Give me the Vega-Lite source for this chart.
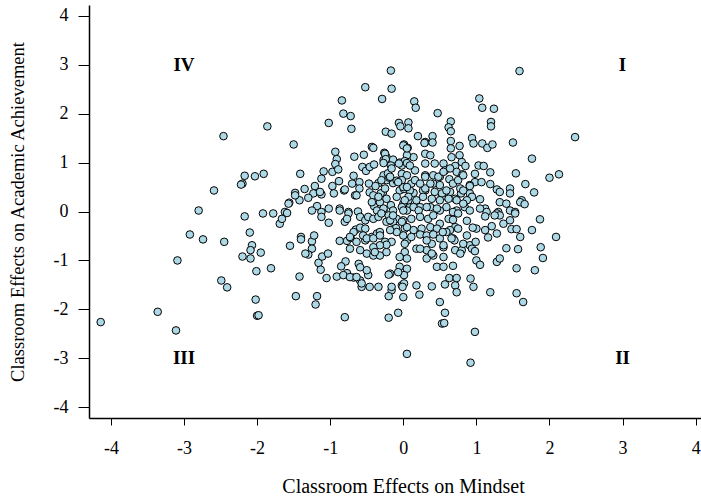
{
  "$schema": "https://vega.github.io/schema/vega-lite/v6.json",
  "width": 612,
  "height": 413,
  "autosize": {"type": "none"},
  "padding": {"left": 89, "top": 5, "right": 0, "bottom": 80},
  "background": "white",
  "config": {"view": {"stroke": null}, "font": "Liberation Serif"},
  "datasets": {
    "pts": [
{"mindset":-0.17,"achievement":2.88},{"mindset":-0.52,"achievement":2.54},{"mindset":-0.16,"achievement":2.51},{"mindset":-0.29,"achievement":2.30},{"mindset":-0.84,"achievement":2.27},{"mindset":0.15,"achievement":2.25},{"mindset":0.17,"achievement":2.12},{"mindset":-0.82,"achievement":2.00},{"mindset":-0.72,"achievement":1.95},{"mindset":-1.02,"achievement":1.81},{"mindset":-0.71,"achievement":1.69},{"mindset":-1.86,"achievement":1.74},{"mindset":-2.46,"achievement":1.54},{"mindset":-0.06,"achievement":1.81},{"mindset":0.07,"achievement":1.82},{"mindset":-0.04,"achievement":1.74},{"mindset":-0.24,"achievement":1.63},{"mindset":-0.16,"achievement":1.59},{"mindset":0.07,"achievement":1.70},{"mindset":0.20,"achievement":1.54},{"mindset":-1.50,"achievement":1.37},{"mindset":-0.43,"achievement":1.32},{"mindset":-0.41,"achievement":1.30},{"mindset":0.01,"achievement":1.37},{"mindset":0.06,"achievement":1.30},{"mindset":0.30,"achievement":1.42},{"mindset":-0.93,"achievement":1.22},{"mindset":-0.67,"achievement":1.12},{"mindset":-0.54,"achievement":1.16},{"mindset":-0.91,"achievement":1.07},{"mindset":-0.93,"achievement":0.97},{"mindset":-0.26,"achievement":1.20},{"mindset":-0.23,"achievement":1.11},{"mindset":-0.27,"achievement":1.05},{"mindset":-0.14,"achievement":1.06},{"mindset":-0.17,"achievement":0.94},{"mindset":-0.05,"achievement":1.00},{"mindset":-0.02,"achievement":0.94},{"mindset":0.14,"achievement":1.11},{"mindset":0.05,"achievement":1.15},{"mindset":0.30,"achievement":1.18},{"mindset":0.37,"achievement":1.15},
{"mindset":1.59,"achievement":2.87},{"mindset":1.04,"achievement":2.31},{"mindset":1.08,"achievement":2.12},{"mindset":1.24,"achievement":2.10},{"mindset":0.47,"achievement":2.01},{"mindset":0.65,"achievement":1.84},{"mindset":0.62,"achievement":1.72},{"mindset":0.65,"achievement":1.64},{"mindset":1.20,"achievement":1.83},{"mindset":1.20,"achievement":1.74},{"mindset":2.35,"achievement":1.52},{"mindset":0.29,"achievement":1.40},{"mindset":0.40,"achievement":1.54},{"mindset":0.40,"achievement":1.41},{"mindset":0.65,"achievement":1.44},{"mindset":0.65,"achievement":1.29},{"mindset":0.77,"achievement":1.34},{"mindset":0.94,"achievement":1.50},{"mindset":0.96,"achievement":1.39},{"mindset":1.08,"achievement":1.39},{"mindset":1.15,"achievement":1.30},{"mindset":1.22,"achievement":1.37},{"mindset":1.50,"achievement":1.41},{"mindset":1.76,"achievement":1.08},{"mindset":0.00,"achievement":1.35},{"mindset":0.05,"achievement":1.29},
{"mindset":0.30,"achievement":0.98},{"mindset":0.43,"achievement":0.98},{"mindset":0.55,"achievement":0.98},{"mindset":0.66,"achievement":1.11},{"mindset":0.77,"achievement":1.15},{"mindset":0.80,"achievement":1.01},{"mindset":0.85,"achievement":0.93},{"mindset":0.71,"achievement":0.93},{"mindset":0.02,"achievement":1.03},{"mindset":-0.25,"achievement":1.18},{"mindset":-0.24,"achievement":1.07},
{"mindset":0.57,"achievement":0.84},{"mindset":0.50,"achievement":0.71},{"mindset":0.63,"achievement":0.66},{"mindset":0.41,"achievement":0.74},{"mindset":0.30,"achievement":0.74},{"mindset":0.16,"achievement":0.84},{"mindset":-0.02,"achievement":0.77},{"mindset":0.11,"achievement":0.57},{"mindset":0.41,"achievement":0.57},{"mindset":0.73,"achievement":0.81},{"mindset":0.81,"achievement":0.76},{"mindset":0.98,"achievement":0.77},{"mindset":1.03,"achievement":0.94},{"mindset":1.10,"achievement":0.93},{"mindset":1.19,"achievement":0.80},{"mindset":0.98,"achievement":0.60},{"mindset":0.91,"achievement":0.54},{"mindset":1.19,"achievement":0.56},{"mindset":1.28,"achievement":0.45},{"mindset":1.32,"achievement":0.40},{"mindset":1.46,"achievement":0.47},{"mindset":1.46,"achievement":0.37},{"mindset":0.79,"achievement":0.37},{"mindset":0.91,"achievement":0.37},{"mindset":0.64,"achievement":0.40},{"mindset":0.30,"achievement":0.43},{"mindset":0.53,"achievement":0.30},{"mindset":1.05,"achievement":0.25},{"mindset":1.62,"achievement":0.23},{"mindset":1.54,"achievement":0.78},{"mindset":2.00,"achievement":0.69},{"mindset":2.13,"achievement":0.76},{"mindset":1.67,"achievement":0.56},{"mindset":1.79,"achievement":0.39},
{"mindset":-0.56,"achievement":0.91},{"mindset":-0.51,"achievement":0.83},{"mindset":-0.46,"achievement":0.91},{"mindset":-0.40,"achievement":0.96},{"mindset":-0.68,"achievement":0.73},{"mindset":-0.70,"achievement":0.57},{"mindset":-0.60,"achievement":0.60},{"mindset":-0.47,"achievement":0.57},{"mindset":-0.34,"achievement":0.58},{"mindset":-0.27,"achievement":0.74},{"mindset":-0.21,"achievement":0.78},{"mindset":-0.14,"achievement":0.58},{"mindset":-1.09,"achievement":0.82},{"mindset":-1.12,"achievement":0.67},{"mindset":-0.97,"achievement":0.81},{"mindset":-0.88,"achievement":0.62},{"mindset":-0.97,"achievement":0.52},{"mindset":-0.81,"achievement":0.43},{"mindset":-0.95,"achievement":0.37},{"mindset":-1.21,"achievement":0.52},{"mindset":-1.23,"achievement":0.37},{"mindset":-1.35,"achievement":0.46},{"mindset":-1.41,"achievement":0.77},{"mindset":-1.48,"achievement":0.38},{"mindset":-1.12,"achievement":0.35},{"mindset":-2.17,"achievement":0.73},{"mindset":-2.03,"achievement":0.72},{"mindset":-1.91,"achievement":0.77},{"mindset":-2.20,"achievement":0.57},{"mindset":-2.22,"achievement":0.55},{"mindset":-2.59,"achievement":0.43},{"mindset":-0.66,"achievement":0.33},{"mindset":-0.46,"achievement":0.39},{"mindset":-0.28,"achievement":0.38},{"mindset":-0.05,"achievement":0.43},{"mindset":0.14,"achievement":0.38},{"mindset":-0.89,"achievement":0.86},{"mindset":-0.27,"achievement":0.99},{"mindset":-0.06,"achievement":0.98},{"mindset":0.05,"achievement":0.99},{"mindset":-0.16,"achievement":0.88},{"mindset":-1.14,"achievement":0.40},{"mindset":-1.30,"achievement":0.28},{"mindset":-1.42,"achievement":0.23},{"mindset":-1.56,"achievement":0.18},{"mindset":-0.80,"achievement":0.45},{"mindset":-0.60,"achievement":0.47},{"mindset":-0.64,"achievement":0.33},{"mindset":-0.38,"achievement":0.52},{"mindset":-0.31,"achievement":0.37},{"mindset":-0.41,"achievement":0.33},{"mindset":-0.23,"achievement":0.64},{"mindset":-0.19,"achievement":0.69},{"mindset":-0.09,"achievement":0.63},{"mindset":-0.25,"achievement":0.47},{"mindset":0.01,"achievement":0.46},{"mindset":-0.17,"achievement":0.13},{"mindset":-0.40,"achievement":0.11},{"mindset":-0.32,"achievement":0.19},{"mindset":-0.43,"achievement":0.19},{"mindset":-1.18,"achievement":0.11},{"mindset":-1.25,"achievement":0.02},{"mindset":-1.02,"achievement":0.06},{"mindset":-0.87,"achievement":0.06},{"mindset":-0.75,"achievement":-0.01},{"mindset":-0.62,"achievement":0.00},{"mindset":-1.62,"achievement":-0.01},{"mindset":-1.92,"achievement":-0.04},{"mindset":-1.78,"achievement":-0.04},
{"mindset":0.16,"achievement":0.64},{"mindset":0.00,"achievement":0.50},{"mindset":0.09,"achievement":0.43},{"mindset":0.27,"achievement":0.43},{"mindset":0.30,"achievement":0.47},{"mindset":0.43,"achievement":0.40},{"mindset":0.53,"achievement":0.37},{"mindset":0.71,"achievement":0.26},{"mindset":0.78,"achievement":0.47},{"mindset":0.82,"achievement":0.43},{"mindset":0.91,"achievement":0.52},{"mindset":0.94,"achievement":0.30},{"mindset":0.87,"achievement":0.23},{"mindset":1.07,"achievement":0.60},{"mindset":1.12,"achievement":0.06},{"mindset":0.84,"achievement":0.09},{"mindset":0.91,"achievement":0.02},{"mindset":1.32,"achievement":0.19},{"mindset":1.41,"achievement":0.16},{"mindset":1.60,"achievement":0.19},{"mindset":1.66,"achievement":0.15},{"mindset":1.46,"achievement":0.02},{"mindset":1.53,"achievement":-0.01},{"mindset":1.30,"achievement":-0.01},{"mindset":1.14,"achievement":-0.01},{"mindset":0.59,"achievement":0.09},{"mindset":0.50,"achievement":0.02},{"mindset":0.37,"achievement":0.09},{"mindset":0.23,"achievement":0.09},{"mindset":0.09,"achievement":0.09},{"mindset":0.07,"achievement":0.23},{"mindset":0.18,"achievement":0.23},
{"mindset":0.09,"achievement":0.94},{"mindset":0.05,"achievement":0.74},{"mindset":-0.02,"achievement":0.64},{"mindset":0.23,"achievement":0.57},{"mindset":0.30,"achievement":0.71},{"mindset":0.37,"achievement":0.57},{"mindset":0.48,"achievement":0.71},{"mindset":0.55,"achievement":0.81},{"mindset":0.64,"achievement":0.88},{"mindset":0.50,"achievement":0.54},{"mindset":0.59,"achievement":0.43},{"mindset":0.68,"achievement":0.57},{"mindset":0.75,"achievement":0.64},{"mindset":0.82,"achievement":0.74},{"mindset":0.07,"achievement":0.30},{"mindset":0.27,"achievement":0.30},{"mindset":0.39,"achievement":0.26},{"mindset":0.50,"achievement":0.23},{"mindset":0.62,"achievement":0.26},{"mindset":0.73,"achievement":0.23},{"mindset":0.82,"achievement":0.16},{"mindset":0.00,"achievement":0.16},{"mindset":0.14,"achievement":0.09},{"mindset":0.32,"achievement":0.09},{"mindset":0.46,"achievement":0.06},{"mindset":0.73,"achievement":0.02},{"mindset":-0.30,"achievement":0.64},{"mindset":-0.18,"achievement":0.71},{"mindset":-0.07,"achievement":0.60},{"mindset":0.05,"achievement":0.50},{"mindset":-0.34,"achievement":0.30},{"mindset":-0.23,"achievement":0.26},{"mindset":-0.09,"achievement":0.30},{"mindset":0.02,"achievement":0.23},{"mindset":-0.02,"achievement":0.09},{"mindset":0.05,"achievement":0.02},{"mindset":-0.27,"achievement":0.02},{"mindset":-0.14,"achievement":0.02},
{"mindset":0.00,"achievement":0.02},{"mindset":0.21,"achievement":0.02},{"mindset":0.68,"achievement":-0.01},{"mindset":0.75,"achievement":-0.04},{"mindset":0.00,"achievement":-0.18},{"mindset":0.11,"achievement":-0.15},{"mindset":0.23,"achievement":-0.11},{"mindset":0.34,"achievement":-0.15},{"mindset":0.41,"achievement":-0.08},{"mindset":0.50,"achievement":-0.25},{"mindset":0.62,"achievement":-0.15},{"mindset":0.71,"achievement":-0.32},{"mindset":0.02,"achievement":-0.35},{"mindset":0.14,"achievement":-0.38},{"mindset":0.25,"achievement":-0.35},{"mindset":0.37,"achievement":-0.32},{"mindset":0.46,"achievement":-0.35},{"mindset":0.64,"achievement":-0.38},{"mindset":0.75,"achievement":-0.35},{"mindset":0.87,"achievement":-0.19},{"mindset":1.00,"achievement":-0.35},{"mindset":1.12,"achievement":-0.38},{"mindset":1.21,"achievement":-0.30},{"mindset":1.28,"achievement":-0.04},{"mindset":1.37,"achievement":-0.25},{"mindset":1.46,"achievement":-0.18},{"mindset":1.53,"achievement":-0.04},{"mindset":1.48,"achievement":-0.36},{"mindset":1.55,"achievement":-0.36},{"mindset":1.60,"achievement":-0.52},{"mindset":1.76,"achievement":-0.38},{"mindset":1.87,"achievement":-0.16},{"mindset":2.09,"achievement":-0.52},{"mindset":0.05,"achievement":-0.59},{"mindset":0.11,"achievement":-0.52},{"mindset":0.23,"achievement":-0.47},{"mindset":0.32,"achievement":-0.49},{"mindset":0.41,"achievement":-0.47},{"mindset":0.50,"achievement":-0.55},{"mindset":0.59,"achievement":-0.42},{"mindset":0.68,"achievement":-0.55},{"mindset":0.87,"achievement":-0.49},{"mindset":0.18,"achievement":-0.76},{"mindset":0.32,"achievement":-0.79},{"mindset":0.39,"achievement":-0.66},{"mindset":0.55,"achievement":-0.73},{"mindset":0.71,"achievement":-0.79},{"mindset":0.80,"achievement":-0.79},{"mindset":0.91,"achievement":-0.69},{"mindset":0.94,"achievement":-0.76},{"mindset":0.99,"achievement":-0.62},{"mindset":0.02,"achievement":-0.83},{"mindset":0.05,"achievement":-0.96},{"mindset":0.32,"achievement":-0.96},{"mindset":0.41,"achievement":-0.90},{"mindset":0.55,"achievement":-0.93},{"mindset":0.78,"achievement":-0.86},{"mindset":1.00,"achievement":-1.00},{"mindset":1.05,"achievement":-1.09},{"mindset":1.28,"achievement":-1.03},{"mindset":1.32,"achievement":-0.96},{"mindset":1.41,"achievement":-0.75},{"mindset":1.57,"achievement":-0.77},{"mindset":-0.05,"achievement":-1.13},{"mindset":0.05,"achievement":-1.17},{"mindset":0.46,"achievement":-1.13},{"mindset":0.55,"achievement":-1.13},{"mindset":0.68,"achievement":-1.11},{"mindset":1.55,"achievement":-1.16},{"mindset":1.80,"achievement":-1.20},{"mindset":1.91,"achievement":-0.95},{"mindset":1.88,"achievement":-0.73},{"mindset":0.01,"achievement":-1.30},{"mindset":-0.02,"achievement":-1.51},{"mindset":0.00,"achievement":-1.75},{"mindset":0.18,"achievement":-1.51},{"mindset":0.22,"achievement":-1.70},{"mindset":0.39,"achievement":-1.53},{"mindset":0.57,"achievement":-1.49},{"mindset":0.63,"achievement":-1.36},{"mindset":0.73,"achievement":-1.36},{"mindset":0.71,"achievement":-1.51},{"mindset":0.73,"achievement":-1.65},{"mindset":0.92,"achievement":-1.37},{"mindset":0.96,"achievement":-1.54},{"mindset":1.19,"achievement":-1.65},{"mindset":1.55,"achievement":-1.67},{"mindset":1.64,"achievement":-1.85},{"mindset":0.50,"achievement":-1.85},{"mindset":0.57,"achievement":-2.07},{"mindset":0.53,"achievement":-2.29},{"mindset":0.56,"achievement":-2.28},{"mindset":0.98,"achievement":-2.46},{"mindset":0.92,"achievement":-3.09},{"mindset":0.05,"achievement":-2.91},
{"mindset":0.70,"achievement":-0.59},{"mindset":0.82,"achievement":-0.66},{"mindset":0.95,"achievement":-0.33},{"mindset":1.16,"achievement":-0.53},{"mindset":1.28,"achievement":-0.45},{"mindset":1.32,"achievement":-0.08},{"mindset":1.12,"achievement":-0.10},{"mindset":1.05,"achievement":0.06},{"mindset":1.25,"achievement":-0.08},{"mindset":0.68,"achievement":-0.17},{"mindset":0.54,"achievement":-0.42},{"mindset":0.32,"achievement":-0.59},{"mindset":0.23,"achievement":-0.76},{"mindset":0.39,"achievement":-0.86},{"mindset":0.02,"achievement":-0.66},{"mindset":0.01,"achievement":-1.47},{"mindset":0.98,"achievement":-0.81},{"mindset":0.55,"achievement":-0.69},{"mindset":0.66,"achievement":-0.55},{"mindset":0.05,"achievement":-0.32},
{"mindset":-2.80,"achievement":0.02},{"mindset":-2.17,"achievement":-0.10},{"mindset":-1.69,"achievement":-0.25},{"mindset":-1.66,"achievement":-0.15},{"mindset":-1.59,"achievement":-0.03},{"mindset":-1.57,"achievement":0.16},{"mindset":-1.48,"achievement":0.33},{"mindset":-2.92,"achievement":-0.47},{"mindset":-2.74,"achievement":-0.57},{"mindset":-2.45,"achievement":-0.62},{"mindset":-2.10,"achievement":-0.43},{"mindset":-2.07,"achievement":-0.69},{"mindset":-2.09,"achievement":-0.79},{"mindset":-2.20,"achievement":-0.92},{"mindset":-2.09,"achievement":-0.96},{"mindset":-1.95,"achievement":-0.84},{"mindset":-2.01,"achievement":-1.22},{"mindset":-1.81,"achievement":-1.16},{"mindset":-3.09,"achievement":-1.00},{"mindset":-2.49,"achievement":-1.41},{"mindset":-2.41,"achievement":-1.55},{"mindset":-2.02,"achievement":-1.80},{"mindset":-2.00,"achievement":-2.13},{"mindset":-1.98,"achievement":-2.12},{"mindset":-3.36,"achievement":-2.05},{"mindset":-4.14,"achievement":-2.26},{"mindset":-3.11,"achievement":-2.43},{"mindset":-1.42,"achievement":-1.33},{"mindset":-1.47,"achievement":-1.73},{"mindset":-1.18,"achievement":-1.73},{"mindset":-1.20,"achievement":-1.90},{"mindset":-1.55,"achievement":-0.70},{"mindset":-1.40,"achievement":-0.52},{"mindset":-1.40,"achievement":-0.57},{"mindset":-1.25,"achievement":-0.61},{"mindset":-1.22,"achievement":-0.49},{"mindset":-1.25,"achievement":-0.76},{"mindset":-1.30,"achievement":-0.88},{"mindset":-1.34,"achievement":-0.86},{"mindset":-1.16,"achievement":-1.05},{"mindset":-1.13,"achievement":-1.19},{"mindset":-1.11,"achievement":-0.92},{"mindset":-1.03,"achievement":-0.86},{"mindset":-1.05,"achievement":-1.36},{"mindset":-0.91,"achievement":-1.33},{"mindset":-0.79,"achievement":-1.02},{"mindset":-0.85,"achievement":-1.12},{"mindset":-0.77,"achievement":-1.26},{"mindset":-0.87,"achievement":-0.60},{"mindset":-0.77,"achievement":-0.60},{"mindset":-0.73,"achievement":-0.76},{"mindset":-0.72,"achievement":-0.54},{"mindset":-0.65,"achievement":-0.37},{"mindset":-0.59,"achievement":-0.33},{"mindset":-0.52,"achievement":-0.35},{"mindset":-0.68,"achievement":-1.35},{"mindset":-0.59,"achievement":-1.41},{"mindset":-0.57,"achievement":-1.54},{"mindset":-0.48,"achievement":-1.30},{"mindset":-0.50,"achievement":-1.20},{"mindset":-0.61,"achievement":-1.07},{"mindset":-0.59,"achievement":-1.14},{"mindset":-0.46,"achievement":-1.54},{"mindset":-0.34,"achievement":-1.54},{"mindset":-0.80,"achievement":-2.16},{"mindset":-0.50,"achievement":-0.86},{"mindset":-0.41,"achievement":-0.90},{"mindset":-0.32,"achievement":-0.90},{"mindset":-0.23,"achievement":-0.83},{"mindset":-0.52,"achievement":-0.59},{"mindset":-0.43,"achievement":-0.52},{"mindset":-0.36,"achievement":-0.45},{"mindset":-0.32,"achievement":-0.42},{"mindset":-0.25,"achievement":-0.62},{"mindset":-0.16,"achievement":-0.62},{"mindset":-0.18,"achievement":-1.27},{"mindset":-0.16,"achievement":-1.61},{"mindset":-0.20,"achievement":-1.73},{"mindset":-0.20,"achievement":-2.17},{"mindset":-0.07,"achievement":-2.07},{"mindset":-0.01,"achievement":-1.54},{"mindset":-0.05,"achievement":-0.93},
{"mindset":-0.87,"achievement":0.02},{"mindset":-0.80,"achievement":-0.21},{"mindset":-0.75,"achievement":-0.04},{"mindset":-0.59,"achievement":-0.11},{"mindset":-0.36,"achievement":0.02},{"mindset":-0.20,"achievement":-0.08},{"mindset":-0.09,"achievement":-0.15},{"mindset":-0.02,"achievement":-0.21},{"mindset":-0.14,"achievement":-0.21},{"mindset":-1.12,"achievement":-0.01},{"mindset":-1.12,"achievement":-0.11},{"mindset":-1.02,"achievement":-0.23},{"mindset":-0.77,"achievement":-0.15},{"mindset":-0.52,"achievement":-0.18},{"mindset":-0.48,"achievement":-0.11},{"mindset":-0.41,"achievement":-0.15},{"mindset":-0.34,"achievement":-0.11},{"mindset":-0.23,"achievement":-0.21},{"mindset":-0.18,"achievement":-0.18},{"mindset":-0.10,"achievement":-0.34},{"mindset":-0.68,"achievement":-0.42},{"mindset":-0.55,"achievement":-0.49},{"mindset":-0.73,"achievement":-0.52},{"mindset":-0.64,"achievement":-0.62},{"mindset":-0.50,"achievement":-0.55},{"mindset":-0.41,"achievement":-0.55},{"mindset":-0.32,"achievement":-0.49},{"mindset":-0.23,"achievement":-0.68},{"mindset":-0.32,"achievement":-0.69},{"mindset":-0.41,"achievement":-0.73},{"mindset":-0.39,"achievement":-0.83},{"mindset":-0.59,"achievement":-0.79},{"mindset":-0.82,"achievement":-1.30},{"mindset":-0.73,"achievement":-1.34},{"mindset":-0.64,"achievement":-1.34},{"mindset":-0.57,"achievement":-1.47},{"mindset":-0.16,"achievement":-1.54},{"mindset":-0.20,"achievement":-1.29},{"mindset":-0.07,"achievement":-1.24},{"mindset":0.00,"achievement":-0.49},{"mindset":-0.09,"achievement":-0.42},{"mindset":-0.18,"achievement":-0.38},{"mindset":-0.14,"achievement":-0.08},{"mindset":-0.27,"achievement":0.06},{"mindset":-0.30,"achievement":-0.04}
    ],
    "quadrants": [
      {"label": "I", "mindset": 3, "achievement": 3},
      {"label": "II", "mindset": 3, "achievement": -3},
      {"label": "III", "mindset": -3, "achievement": -3},
      {"label": "IV", "mindset": -3, "achievement": 3}
    ]
  },
  "layer": [
    {
      "data": {"name": "quadrants"},
      "mark": {"type": "text", "font": "Liberation Serif", "fontWeight": "bold", "fontSize": 19, "baseline": "middle", "align": "center", "color": "black"},
      "encoding": {
        "x": {
          "field": "mindset", "type": "quantitative",
          "scale": {"domain": [-4.3, 4.073], "nice": false, "zero": false},
          "axis": {
            "values": [-4, -3, -2, -1, 0, 1, 2, 3, 4],
            "labelExpr": "datum.value < 0 ? '-' + abs(datum.value) : '' + datum.value",
            "grid": false, "domainColor": "black", "domainWidth": 1.5,
            "tickColor": "black", "tickWidth": 1, "tickSize": 7,
            "labelFont": "Liberation Serif", "labelFontSize": 18, "labelColor": "black", "labelPadding": 14,
            "labelFlush": false, "labelOverlap": false,
            "title": "Classroom Effects on Mindset",
            "titleFont": "Liberation Serif", "titleFontSize": 20, "titleFontWeight": "normal", "titleColor": "black",
            "titleX": 314, "titleY": 74, "titleBaseline": "alphabetic", "titleAlign": "center"
          }
        },
        "y": {
          "field": "achievement", "type": "quantitative",
          "scale": {"domain": [-4.22, 4.22], "nice": false, "zero": false},
          "axis": {
            "values": [-4, -3, -2, -1, 0, 1, 2, 3, 4],
            "labelExpr": "datum.value < 0 ? '-' + abs(datum.value) : '' + datum.value",
            "grid": false, "domainColor": "black", "domainWidth": 1.5,
            "tickColor": "black", "tickWidth": 1, "tickSize": 11,
            "labelFont": "Liberation Serif", "labelFontSize": 18, "labelColor": "black", "labelPadding": 10,
            "labelFlush": false, "labelOverlap": false,
            "title": "Classroom Effects on Academic Achievement",
            "titleFont": "Liberation Serif", "titleFontSize": 18.5, "titleFontWeight": "normal", "titleColor": "black",
            "titleX": -66, "titleBaseline": "alphabetic", "titleAngle": -90, "titleAlign": "center"
          }
        },
        "text": {"field": "label"}
      }
    },
    {
      "mark": {"type": "rule", "color": "#444444", "strokeWidth": 1.3},
      "encoding": {"y": {"datum": 0}}
    },
    {
      "mark": {"type": "rule", "color": "#444444", "strokeWidth": 1.3},
      "encoding": {"x": {"datum": 0}}
    },
    {
      "mark": {"type": "rule", "color": "black", "strokeWidth": 1.5},
      "encoding": {"y": {"datum": 4.22}}
    },
    {
      "data": {"name": "pts"},
      "mark": {"type": "circle", "size": 58, "fill": "#ADD8E6", "stroke": "black", "strokeWidth": 1, "opacity": 1},
      "encoding": {
        "x": {"field": "mindset", "type": "quantitative"},
        "y": {"field": "achievement", "type": "quantitative"}
      }
    }
  ]
}
